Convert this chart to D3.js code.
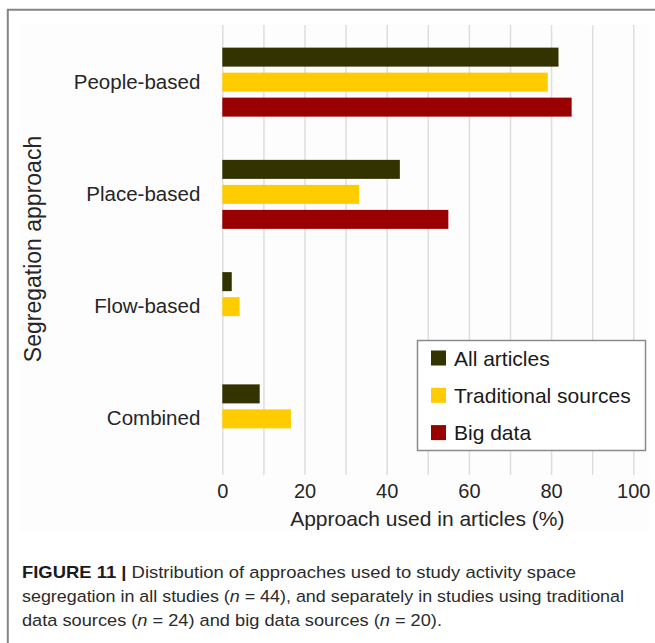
<!DOCTYPE html>
<html>
<head>
<meta charset="utf-8">
<script src="https://cdn.jsdelivr.net/npm/d3@7"></script>
<style>
  html, body { margin: 0; padding: 0; background: #ffffff; }
  svg { display: block; }
  text { font-family: "Liberation Sans", Arial, Helvetica, sans-serif; }
</style>
</head>
<body>
<svg id="chart" width="655" height="643"></svg>
<script>
// ---- data ----
const categories = ["People-based", "Place-based", "Flow-based", "Combined"];
const seriesNames = ["All articles", "Traditional sources", "Big data"];
const allArticles = [81.8, 43.2, 2.3, 9.1];
const traditionalSources = [79.2, 33.3, 4.2, 16.7];
const bigData = [85.0, 55.0, 0, 0];
const xTicks = [0, 20, 40, 60, 80, 100];
const gridValues = [0, 10, 20, 30, 40, 50, 60, 70, 80, 90, 100];
const seriesColors = ["#333300", "#ffcc00", "#990000"];
const xTitle = "Approach used in articles (%)";
const yTitle = "Segregation approach";

const seriesValues = [allArticles, traditionalSources, bigData];

const svg = d3.select("#chart");

// frame
svg.append("line").attr("x1", 7).attr("x2", 655).attr("y1", 9.8).attr("y2", 9.8)
  .attr("stroke", "#858585").attr("stroke-width", 2);
svg.append("line").attr("x1", 7.8).attr("x2", 7.8).attr("y1", 9).attr("y2", 643)
  .attr("stroke", "#858585").attr("stroke-width", 2);

// faint chart panel
svg.append("rect").attr("x", 20).attr("y", 25).attr("width", 630).attr("height", 506)
  .attr("fill", "#fdfdfd");

const x = d3.scaleLinear().domain([0, 100]).range([222.3, 633.3]);
const y = d3.scaleBand().domain(categories).range([26, 475]);
const ySub = d3.scaleBand().domain(seriesNames).range([-37.5, 37.5])
  .paddingInner(0.24).paddingOuter(0.12);

// gridlines
const grid = svg.append("g").attr("transform", "translate(0,475)")
  .call(d3.axisBottom(x).tickValues(gridValues).tickSize(-450).tickFormat(""));
grid.select(".domain").remove();
grid.selectAll(".tick line").attr("stroke", "#dedede").attr("stroke-width", 1.5);

// bars
const groups = svg.append("g").selectAll("g")
  .data(categories)
  .join("g")
  .attr("transform", d => `translate(0,${y(d) + y.bandwidth() / 2})`);

groups.selectAll("rect")
  .data((c, ci) => seriesNames.map((s, si) => ({ s, si, v: seriesValues[si][ci] })))
  .join("rect")
  .filter(d => d.v > 0)
  .attr("x", x(0))
  .attr("y", d => ySub(d.s))
  .attr("height", ySub.bandwidth())
  .attr("width", d => x(d.v) - x(0))
  .attr("fill", d => seriesColors[d.si]);

// category labels
const yAxis = svg.append("g").attr("transform", `translate(${x(0) - 22},0)`)
  .call(d3.axisLeft(y).tickSize(0).tickPadding(0));
yAxis.select(".domain").remove();
yAxis.selectAll("text")
  .attr("font-size", "20.5px")
  .attr("fill", "#262626")
  .attr("font-family", "'Liberation Sans', Arial, sans-serif");

// x tick labels
const xAxis = svg.append("g").attr("transform", "translate(0,498)")
  .call(d3.axisBottom(x).tickValues(xTicks).tickSize(0).tickPadding(0));
xAxis.select(".domain").remove();
xAxis.selectAll("text")
  .attr("dy", 0)
  .attr("y", 0)
  .attr("font-size", "20px")
  .attr("fill", "#262626")
  .attr("font-family", "'Liberation Sans', Arial, sans-serif");

// axis titles
svg.append("text")
  .attr("x", (x(0) + x(100)) / 2 - 0.5)
  .attr("y", 526)
  .attr("text-anchor", "middle")
  .attr("font-size", "21px")
  .attr("fill", "#262626")
  .text(xTitle);

svg.append("text")
  .attr("transform", "translate(41,249) rotate(-90)")
  .attr("text-anchor", "middle")
  .attr("font-size", "23px")
  .attr("fill", "#262626")
  .text(yTitle);

// legend
const legend = svg.append("g");
legend.append("rect").attr("x", 417.5).attr("y", 340.5).attr("width", 228).attr("height", 110)
  .attr("fill", "#ffffff").attr("stroke", "#8a8a8a").attr("stroke-width", 1.5);
const items = legend.selectAll("g.item").data(seriesNames).join("g")
  .attr("class", "item")
  .attr("transform", (d, i) => `translate(0,${350.5 + i * 37.3})`);
items.append("rect").attr("x", 431).attr("y", 0).attr("width", 15).attr("height", 15)
  .attr("fill", (d, i) => seriesColors[i]);
items.append("text").attr("x", 454).attr("y", 15)
  .attr("font-size", "21px").attr("fill", "#1a1a1a")
  .text(d => d);

// caption
const cap = svg.append("g").attr("fill", "#2b2b2b").attr("font-size", "16.3px");
const l1 = cap.append("text").attr("x", 22).attr("y", 578)
  .attr("textLength", 554).attr("lengthAdjust", "spacingAndGlyphs");
l1.append("tspan").attr("font-weight", "bold").attr("fill", "#1a1a1a").text("FIGURE 11 | ");
l1.append("tspan").text("Distribution of approaches used to study activity space");

const l2 = cap.append("text").attr("x", 22).attr("y", 602)
  .attr("textLength", 602).attr("lengthAdjust", "spacingAndGlyphs");
l2.append("tspan").text("segregation in all studies (");
l2.append("tspan").attr("font-style", "italic").text("n");
l2.append("tspan").text(" = 44), and separately in studies using traditional");

const l3 = cap.append("text").attr("x", 22).attr("y", 626)
  .attr("textLength", 420).attr("lengthAdjust", "spacingAndGlyphs");
l3.append("tspan").text("data sources (");
l3.append("tspan").attr("font-style", "italic").text("n");
l3.append("tspan").text(" = 24) and big data sources (");
l3.append("tspan").attr("font-style", "italic").text("n");
l3.append("tspan").text(" = 20).");
</script>
</body>
</html>
